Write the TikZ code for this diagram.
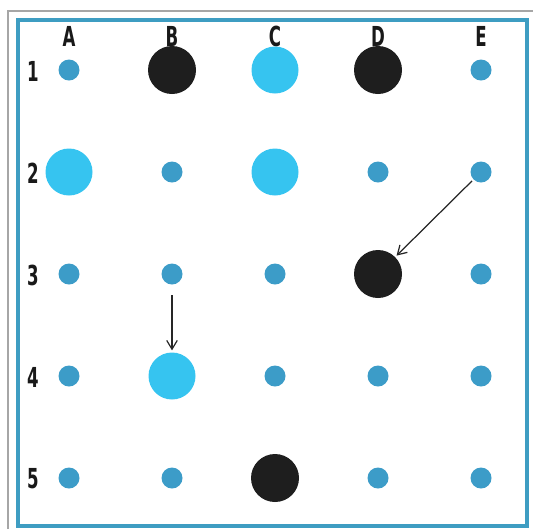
\documentclass[tikz,border=0pt]{standalone}
\usepackage{fontspec}
\setsansfont{DejaVu Sans Condensed}
\usepackage{xcolor}
\usetikzlibrary{arrows.meta}

\definecolor{dotblue}{HTML}{3C9CC8}
\definecolor{bigcyan}{HTML}{36C4F0}
\definecolor{bigdark}{HTML}{1E1E1E}
\definecolor{rimblue}{HTML}{3E9DC2}

% narrow, tall label glyphs
\newcommand{\slimlbl}[1]{\scalebox{0.75}[1.12]{#1}}

\begin{document}
\begin{tikzpicture}[
    x=0.02cm, y=-0.02cm,
    smalldot/.style={circle, fill=dotblue, minimum size=21*0.02cm, inner sep=0pt},
    cyandot/.style={circle, fill=bigcyan, minimum size=47*0.02cm, inner sep=0pt},
    blackdot/.style={circle, fill=bigdark, minimum size=48*0.02cm, inner sep=0pt},
    lbl/.style={font=\sffamily\bfseries\fontsize{14}{16}\selectfont, text=black!90},
    arrow/.style={-{Straight Barb[length=5pt, width=6pt]}, line width=0.7pt, draw=black!85}
]
    \useasboundingbox (0,0) rectangle (533,529);

    % Frame
    \draw[gray!70, line width=1.2pt] (8,529) -- (8,11) -- (533,11);
    \draw[rimblue, line width=2pt] (18,20) rectangle (527,526);

    % Labels
    \foreach \c [count=\i] in {A,B,C,D,E}
        \node[lbl] (col\c) at ({69+103*(\i-1)},36) {\slimlbl{\c}};
    \foreach \r in {1,...,5}
        \node[lbl] (row\r) at (33,{71+102*(\r-1)}) {\slimlbl{\r}};

    % Grid of points
    \foreach \c [count=\i] in {A,B,C,D,E}
        \foreach \r in {1,...,5}
            \coordinate (\c\r) at ({69+103*(\i-1)},{70+102*(\r-1)});

    % Small dots
    \foreach \p in {A1,E1,B2,D2,E2,A3,B3,C3,E3,A4,C4,D4,E4,A5,B5,D5,E5}
        \node[smalldot] (s\p) at (\p) {};

    % Big dots
    \foreach \p in {C1,A2,C2,B4}
        \node[cyandot] (b\p) at (\p) {};
    \foreach \p in {B1,D1,D3,C5}
        \node[blackdot] (b\p) at (\p) {};

    % Moves
    \draw[arrow, shorten <=6pt, shorten >=1pt] (sB3) -- (bB4);
    \draw[arrow, shorten <=1pt, shorten >=1pt] (sE2) -- (bD3);

\end{tikzpicture}
\end{document}
